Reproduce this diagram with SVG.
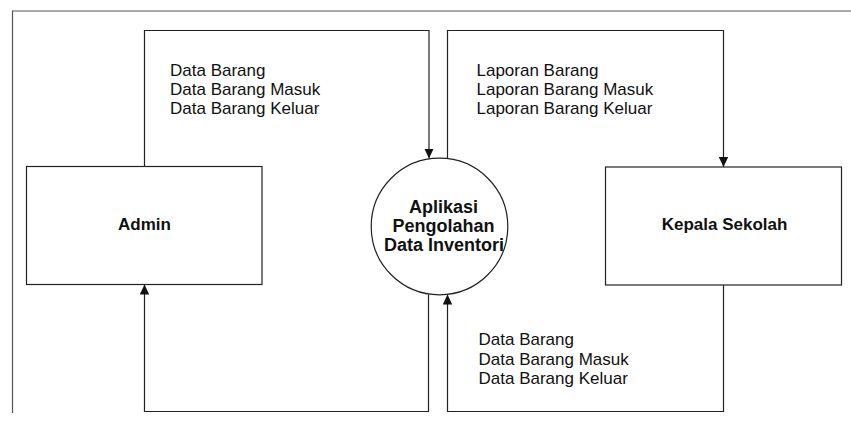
<svg xmlns="http://www.w3.org/2000/svg" width="851" height="423" viewBox="0 0 851 423">
  <style>
    .frame { fill: none; stroke: #555; stroke-width: 1.2; }
    .node { fill: #fff; stroke: #222; stroke-width: 1.2; }
    .flow { fill: none; stroke: #222; stroke-width: 1.2; }
    .label { font-family: "Liberation Sans", Arial, sans-serif; font-size: 17px; fill: #111; }
    .title { font-family: "Liberation Sans", Arial, sans-serif; font-size: 17px; font-weight: bold; fill: #111; text-anchor: middle; }
    .ptitle { font-size: 18px; }
  </style>
  <defs>
    <marker id="arrow" viewBox="0 0 10 10" refX="10" refY="5" markerWidth="10" markerHeight="10" markerUnits="userSpaceOnUse" orient="auto">
      <path d="M0,0.3 L10,5 L0,9.7 Z" fill="#111"/>
    </marker>
  </defs>

  <!-- page frame -->
  <path class="frame" d="M12.5,413 V11 H851"/>

  <!-- data flows -->
  <g id="connectors">
    <path class="flow" d="M144.5,166.5 V30.5 H429 V158.5" marker-end="url(#arrow)"/>
    <path class="flow" d="M447.5,158.5 V30.5 H723.5 V167" marker-end="url(#arrow)"/>
    <path class="flow" d="M723.5,285 V411.5 H447.5 V294.5" marker-end="url(#arrow)"/>
    <path class="flow" d="M428.5,294.5 V411.5 H144.5 V284.5" marker-end="url(#arrow)"/>
  </g>

  <g id="admin">
    <rect class="node" x="26.5" y="166.5" width="235.5" height="118"/>
    <text class="title" x="144.5" y="230">Admin</text>
  </g>

  <g id="aplikasi">
    <circle class="node" cx="439.5" cy="226.5" r="68.3"/>
    <text class="title ptitle" x="443.5" y="212.5">Aplikasi</text>
    <text class="title ptitle" x="443.5" y="231.5">Pengolahan</text>
    <text class="title ptitle" x="444" y="251">Data Inventori</text>
  </g>

  <g id="kepala-sekolah">
    <rect class="node" x="605.5" y="167" width="236" height="118"/>
    <text class="title" x="724.5" y="230">Kepala Sekolah</text>
  </g>

  <g id="flow-labels">
    <text class="label" x="170" y="75.5">Data Barang</text>
    <text class="label" x="170" y="95">Data Barang Masuk</text>
    <text class="label" x="170" y="114">Data Barang Keluar</text>

    <text class="label" x="476.5" y="75.5">Laporan Barang</text>
    <text class="label" x="476.5" y="95">Laporan Barang Masuk</text>
    <text class="label" x="476.5" y="114">Laporan Barang Keluar</text>

    <text class="label" x="478.5" y="345">Data Barang</text>
    <text class="label" x="478.5" y="364.5">Data Barang Masuk</text>
    <text class="label" x="478.5" y="384">Data Barang Keluar</text>
  </g>
</svg>
